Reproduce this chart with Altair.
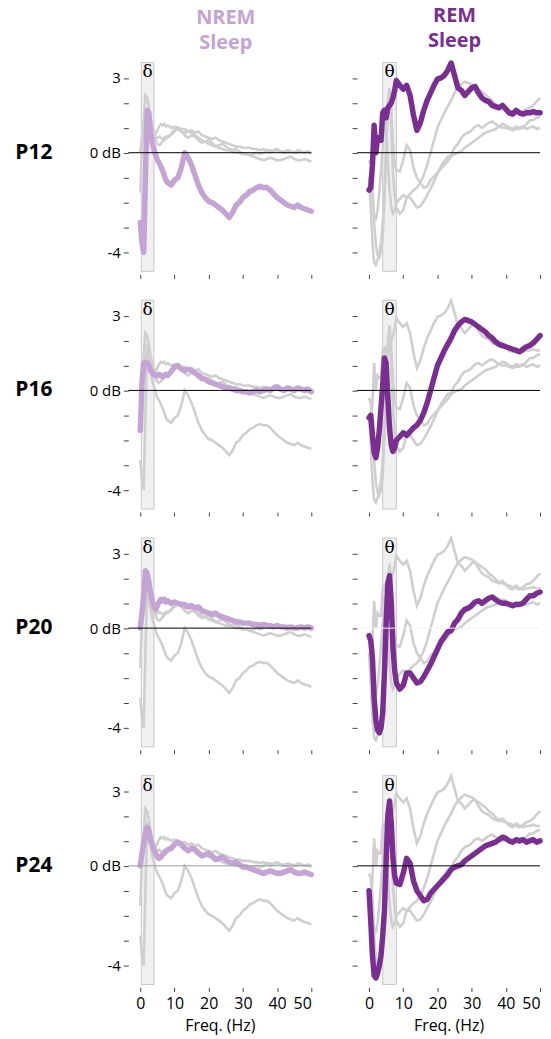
import altair as alt
import pandas as pd

FREQ = [0, 0.5, 1, 1.5, 2, 2.5, 3, 3.5, 4, 4.5, 5, 5.5, 6, 6.5, 7, 7.5, 8,
        9, 10, 11, 12, 13, 14, 15, 16, 17, 18, 19, 20, 21, 22, 23, 24, 25, 26, 27, 28, 29,
        30, 31, 32, 33, 34, 35, 36, 37, 38, 39, 40, 41, 42, 43, 44, 45, 46, 47, 48, 49, 50]

NREM_P12 = [-2.8, -3.6, -4.0, -1.0, 1.7, 1.6, 0.8, 0.4, 0.15, -0.1, -0.3, -0.4, -0.55, -0.7, -0.9, -1.1, -1.2,
            -1.3, -1.1, -1.0, -0.6, 0.0, -0.2, -0.5, -0.9, -1.3, -1.6,
            -1.8, -1.95, -2.0, -2.1, -2.2, -2.3, -2.45, -2.6, -2.4, -2.1,
            -2.0, -1.8, -1.7, -1.55, -1.5, -1.4, -1.35, -1.4, -1.4, -1.5,
            -1.65, -1.8, -1.9, -2.0, -2.1, -2.15, -2.2, -2.1, -2.2, -2.25,
            -2.3, -2.35]
NREM_P16 = [-1.6, 0.3, 1.1, 1.1, 1.1, 1.0, 0.8, 0.7, 0.65, 0.6, 0.6, 0.65, 0.6, 0.55, 0.6, 0.65, 0.6,
            0.75, 0.95, 1.0, 0.85, 0.8, 0.85, 0.8, 0.7, 0.6, 0.5,
            0.45, 0.35, 0.3, 0.25, 0.2, 0.15, 0.1, 0.1, 0.05, 0.0,
            0.0, -0.05, -0.05, -0.1, -0.05, 0.0, -0.05, 0.0, 0.05, 0.0,
            0.1, 0.15, 0.05, 0.0, 0.1, 0.05, 0.0, 0.1, 0.05, 0.0,
            0.05, -0.05]
NREM_P20 = [0.0, 0.6, 1.3, 2.3, 2.2, 1.85, 1.4, 1.1, 0.85, 0.75, 0.9, 1.05, 1.15, 1.1, 1.15, 1.05, 1.1,
            1.0, 1.05, 1.0, 0.95, 0.95, 0.85, 0.9, 0.8, 0.85, 0.7,
            0.65, 0.6, 0.55, 0.6, 0.5, 0.45, 0.4, 0.35, 0.3, 0.25,
            0.25, 0.2, 0.2, 0.2, 0.15, 0.15, 0.1, 0.15, 0.1, 0.1,
            0.05, 0.1, 0.05, 0.05, 0.0, 0.05, 0.0, 0.0, 0.05, 0.0,
            0.05, 0.0]
NREM_P24 = [0.0, 0.5, 0.9, 1.3, 1.55, 1.4, 1.05, 0.85, 0.65, 0.5, 0.35, 0.3, 0.35, 0.45, 0.5, 0.6, 0.65,
            0.7, 0.85, 0.95, 0.85, 0.7, 0.6, 0.7, 0.65, 0.5, 0.4,
            0.45, 0.5, 0.4, 0.25, 0.3, 0.35, 0.25, 0.15, 0.1, 0.15,
            0.05, -0.05, -0.05, -0.1, -0.15, -0.2, -0.25, -0.3, -0.25, -0.2,
            -0.25, -0.3, -0.3, -0.25, -0.2, -0.15, -0.25, -0.3, -0.3, -0.25,
            -0.3, -0.35]

REM_P12 = [-1.5, -1.4, -0.5, 1.1, 0.0, 0.6, 0.5, 0.5, 1.6, 1.7, 1.4, 1.8, 1.9, 2.0, 2.2, 2.5, 2.9,
           2.7, 2.55, 2.7, 2.3, 1.5, 0.9, 1.2, 1.7, 2.1, 2.4,
           2.7, 2.95, 3.0, 3.1, 3.3, 3.6, 3.1, 2.6, 2.5, 2.3,
           2.45, 2.6, 2.65, 2.4, 2.2, 2.1, 2.05, 1.9, 1.85, 1.8,
           1.9, 1.75, 1.6, 1.55, 1.7, 1.6, 1.55, 1.6, 1.6, 1.65,
           1.6, 1.6]
REM_P16 = [-1.1, -1.0, -1.8, -2.5, -2.7, -2.3, -1.6, -0.7, 0.2, 1.3, 1.1, -0.3, -1.5, -2.2, -2.45, -2.3, -2.0,
           -1.85, -1.7, -1.8, -1.65, -1.5, -1.4, -1.2, -0.9, -0.5, 0.0,
           0.5, 1.0, 1.3, 1.6, 1.85, 2.1, 2.4, 2.6, 2.75, 2.85,
           2.8, 2.75, 2.65, 2.55, 2.45, 2.35, 2.2, 2.1, 1.95, 1.85,
           1.8, 1.75, 1.7, 1.65, 1.6, 1.55, 1.65, 1.75, 1.8, 1.9,
           2.05, 2.2]
REM_P20 = [-0.3, -0.5, -1.2, -2.8, -3.7, -4.1, -4.2, -4.0, -3.4, -1.8, 0.2, 1.8, 2.1, 1.0, -0.8, -1.7, -2.2,
           -2.45, -2.3, -1.8, -1.8, -2.0, -2.2, -2.15, -1.95, -1.7, -1.45,
           -1.15, -0.85, -0.55, -0.35, -0.15, -0.1, 0.2, 0.35, 0.6, 0.75,
           0.8, 0.9, 1.05, 1.1, 1.0, 1.1, 1.2, 1.25, 1.15, 1.05,
           1.0, 1.0, 0.95, 0.9, 0.95, 0.95, 1.0, 1.15, 1.3, 1.3,
           1.4, 1.45]
REM_P24 = [-1.0, -2.2, -3.6, -4.4, -4.5, -4.3, -4.0, -3.6, -2.8, -1.8, 0.2, 2.0, 2.6, 1.7, 0.3, -0.4, -0.7,
           -0.75, -0.3, 0.3, 0.1, -0.6, -1.0, -1.2, -1.4, -1.35, -1.1,
           -0.95, -0.8, -0.65, -0.5, -0.35, -0.15, -0.05, 0.0, 0.05, 0.2,
           0.3, 0.4, 0.5, 0.6, 0.7, 0.8, 0.85, 0.9, 0.95, 1.05,
           1.15, 1.1, 1.0, 0.95, 1.05, 1.0, 1.05, 0.95, 1.0, 1.05,
           0.95, 1.0]

AGES = ["P12", "P16", "P20", "P24"]
STATES = ["NREM", "REM"]
SERIES = {
    "NREM": {"P12": NREM_P12, "P16": NREM_P16, "P20": NREM_P20, "P24": NREM_P24},
    "REM": {"P12": REM_P12, "P16": REM_P16, "P20": REM_P20, "P24": REM_P24},
}
STATE_TITLES = {"NREM": ["NREM", "Sleep"], "REM": ["REM", "Sleep"]}
BAND_LO = {"NREM": 0.3, "REM": 4}
BAND_HI = {"NREM": 4, "REM": 8}
BAND_SYM = {"NREM": "δ", "REM": "θ"}
YTICKS = [-4, -3, -2, -1, 0, 1, 2, 3]
XTICKS = [0, 10, 20, 30, 40, 50]

COLORS = {"NREM": "#c4a4d4", "REM": "#7a2e91"}
GRAY = "#cfcfcf"
ZERO_COLOR = {("REM", "P20"): "#f2f2f2", ("NREM", "P24"): "#9a9a9a"}
FONT = "Open Sans"

W, H = 184, 210
XDOM = [-3.5, 50]
YDOM = [-4.76, 3.62]

rows = []
for st in STATES:
    for ag in AGES:
        for f, v in zip(FREQ, SERIES[st][ag]):
            rows.append({"state": st, "age": ag, "freq": f, "db": v})
df = pd.DataFrame(rows)


def panel(state, age, ri, ci):
    last = ri == len(AGES) - 1
    xs = alt.Scale(domain=XDOM, nice=False, zero=False)
    ys = alt.Scale(domain=YDOM, nice=False, zero=False)
    xkw = dict(values=XTICKS, domain=False, grid=False, tickSize=4, tickColor="#444",
               offset=3, labels=last, labelFontSize=16, labelFont=FONT, labelColor="black",
               labelPadding=4)
    if last:
        xkw.update(title="Freq. (Hz)", titleFontSize=16, titleFont=FONT,
                   titleFontWeight="normal", titleColor="black", titlePadding=6)
    else:
        xkw.update(title="")
    xaxis = alt.Axis(**xkw)
    ykw = dict(values=YTICKS, domain=False, grid=False, tickSize=5, tickColor="#444",
               title="", labelPadding=3)
    if ci == 0:
        ykw.update(labels=True, labelFontSize=15, labelFont=FONT, labelColor="black",
                   labelExpr="datum.value == 3 ? '3' : datum.value == 0 ? '0 dB' : datum.value == -4 ? '-4' : ''")
    else:
        ykw.update(labels=False)
    yaxis = alt.Axis(**ykw)

    X = alt.X("freq:Q", scale=xs, axis=xaxis)
    Y = alt.Y("db:Q", scale=ys, axis=yaxis)

    sub = df[df.state == state]
    band_df = pd.DataFrame({"lo": [BAND_LO[state]], "hi": [BAND_HI[state]],
                            "mid": [(BAND_LO[state] + BAND_HI[state]) / 2],
                            "sym": [BAND_SYM[state]]})
    band = alt.Chart(band_df).mark_rect(fill="#f0f0f0", stroke="#c8c8c8", strokeWidth=1).encode(
        x=alt.X("lo:Q", scale=xs, axis=xaxis), x2="hi:Q", y=alt.value(0), y2=alt.value(H))
    band_lab = alt.Chart(band_df).mark_text(baseline="top", fontSize=17, font="DejaVu Serif",
                                            color="black").encode(
        x=alt.X("mid:Q", scale=xs, axis=xaxis), y=alt.value(2), text="sym:N")
    gray = alt.Chart(sub[sub.age != age]).mark_line(color=GRAY, strokeWidth=2.6).encode(
        x=X, y=Y, detail="age:N", order="freq:Q")
    hl = alt.Chart(sub[sub.age == age]).mark_line(color=COLORS[state], strokeWidth=5.5,
                                                  strokeJoin="round", strokeCap="round").encode(
        x=X, y=Y, order="freq:Q")
    zero = alt.Chart(pd.DataFrame({"z": [0]})).mark_rule(
        color=ZERO_COLOR.get((state, age), "black"), strokeWidth=1).encode(
        y=alt.Y("z:Q", scale=ys, axis=yaxis))
    layers = [band, gray, hl, zero, band_lab]
    if ci == 0:
        lab = alt.Chart(pd.DataFrame({"age": [age], "z": [0]})).mark_text(
            fontSize=21, fontWeight="bold", font=FONT, color="black", align="center",
            baseline="middle").encode(x=alt.value(-95), y=alt.Y("z:Q", scale=ys, axis=yaxis),
                                      text="age:N")
        layers.append(lab)
    ch = alt.layer(*layers).properties(width=W, height=H)
    if ri == 0:
        ch = ch.properties(title=alt.TitleParams(
            text=STATE_TITLES[state], color=COLORS[state], fontSize=20, fontWeight="bold",
            font=FONT, anchor="middle", dx=6, offset=9, lineHeight=25))
    return ch


row_charts = []
for ri, ag in enumerate(AGES):
    row_charts.append(alt.hconcat(*[panel(st, ag, ri, ci) for ci, st in enumerate(STATES)],
                                  spacing=34))

chart = alt.vconcat(*row_charts, spacing=16).properties(
    padding={"left": 15, "top": 3, "right": 5, "bottom": 3}
).configure_view(stroke=None)

chart.save("out.html", embed_options={"renderer": "svg", "actions": False})
